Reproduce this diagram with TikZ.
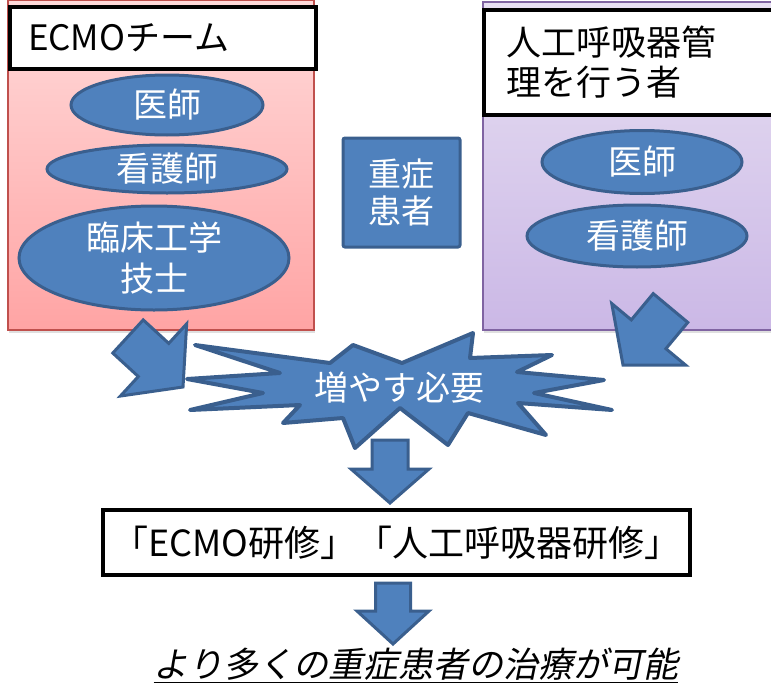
\documentclass[tikz,border=0pt]{standalone}
\usepackage{fontspec}
\setmainfont{Noto Sans CJK JP}
\newfontfamily\slantfont[FakeSlant=0.2]{Noto Sans CJK JP}
\usepackage{tikz}
\usetikzlibrary{positioning,calc,shapes,shadows}

\definecolor{bluefill}{HTML}{4F81BD}
\definecolor{blueedge}{HTML}{3A5F8E}
\definecolor{pinktop}{HTML}{FFDADA}
\definecolor{pinkbot}{HTML}{FFA4A4}
\definecolor{pinkedge}{HTML}{C0504D}
\definecolor{lavtop}{HTML}{E7DFF2}
\definecolor{lavbot}{HTML}{CBB8E6}
\definecolor{lavedge}{HTML}{8064A2}

\tikzset{
  panel/.style={line width=1.5pt, drop shadow={shadow xshift=1pt, shadow yshift=-3pt, opacity=0.25}},
  header/.style={draw=black, fill=white, line width=4pt, anchor=north west, align=left,
    font=\fontsize{35}{40}\selectfont},
  member/.style={ellipse, fill=bluefill, draw=blueedge, line width=3pt, text=white,
    inner sep=0pt, align=center, font=\fontsize{34}{41}\selectfont},
  blockarrow/.style={fill=bluefill, draw=blueedge, line width=3pt, line join=miter},
  burst/.style={fill=bluefill, draw=blueedge, line width=4pt, line join=round},
}

% tail, tip, shaft half width, head half width, head length
\newcommand{\fatarrow}[5]{%
  \draw[blockarrow] ($(#1)!#3!90:(#2)$)
    -- ($($(#2)!#5!(#1)$)!#3!-90:(#1)$)
    -- ($($(#2)!#5!(#1)$)!#4!-90:(#1)$)
    -- (#2)
    -- ($($(#2)!#5!(#1)$)!#4!90:(#1)$)
    -- ($($(#2)!#5!(#1)$)!#3!90:(#1)$)
    -- ($(#1)!#3!-90:(#2)$) -- cycle;}

\begin{document}
\begin{tikzpicture}[x=1pt,y=-1pt]
\useasboundingbox (0,0) rectangle (771,688);

% Panels
\draw[panel, draw=pinkedge, top color=pinktop, bottom color=pinkbot] (8,0) rectangle (314,330);
\draw[panel, draw=lavedge, top color=lavtop, bottom color=lavbot] (483,2) rectangle (780,330);

% Headers
\node[header, minimum width=306pt, minimum height=62pt, text width=270pt, inner xsep=18pt]
  (ecmohead) at (8,5) {ECMOチーム};
\node[header, minimum width=300pt, minimum height=105pt, text width=256pt, inner xsep=22pt]
  (venthead) at (482,8) {人工呼吸器管\\理を行う者};

% Members
\node[member, minimum width=192pt, minimum height=60pt] (doctor1) at (167,105) {医師};
\node[member, minimum width=240pt, minimum height=48pt] (nurse1) at (167,169) {看護師};
\node[member, minimum width=270pt, minimum height=104pt] (engineer) at (154,258) {臨床工学\\技士};
\node[member, minimum width=200pt, minimum height=63pt] (doctor2) at (642,162) {医師};
\node[member, minimum width=220pt, minimum height=62pt] (nurse2) at (637,236) {看護師};

% Patient
\node[fill=bluefill, draw=blueedge, line width=3pt, rounded corners=2pt, text=white,
  minimum width=117pt, minimum height=109pt, align=center, inner sep=0pt,
  font=\fontsize{33}{37}\selectfont] (patient) at (401.5,192.5) {重症\\患者};

% Arrows into the burst
\coordinate (ecmoout) at (128,336.5);
\coordinate (ecmotip) at (183,387);
\coordinate (ventout) at (670.5,308);
\coordinate (venttip) at (623,365);
\fatarrow{ecmoout}{ecmotip}{22.5pt}{49pt}{40pt}
\fatarrow{ventout}{venttip}{22.5pt}{48pt}{40pt}

% Burst
\draw[burst] (195,345) -- (330,363) -- (353,345) -- (402,363) -- (473,333) -- (470,358)
  -- (552,355) -- (517,372) -- (604,380) -- (534,393) -- (612,410) -- (518,403)
  -- (546,435) -- (468,413) -- (448,445) -- (400,408) -- (355,448) -- (343,418)
  -- (283,423) -- (300,405) -- (190,410) -- (263,393) -- (187,379) -- (280,373) -- cycle;
\node[text=white, font=\fontsize{34}{40}\selectfont] (need) at (399,388) {増やす必要};

% Down arrows
\coordinate (needout) at (390,440);
\coordinate (needtip) at (390,503);
\fatarrow{needout}{needtip}{18pt}{39pt}{34pt}

\node[draw=black, line width=4pt, fill=white, minimum width=587pt, minimum height=65pt,
  font=\fontsize{36}{40}\selectfont] (training) at (396.5,542.5) {「ECMO研修」「人工呼吸器研修」};

\coordinate (trainout) at (393,583);
\coordinate (traintip) at (393,644);
\fatarrow{trainout}{traintip}{17.5pt}{36pt}{33pt}

% Result
\node[inner sep=0pt, font=\fontsize{35}{40}\slantfont] (result) at (416,664) {より多くの重症患者の治療が可能};
\draw[line width=1.5pt] ($(result.base west)+(0,5)$) -- ($(result.base east)+(0,5)$);
\end{tikzpicture}
\end{document}
